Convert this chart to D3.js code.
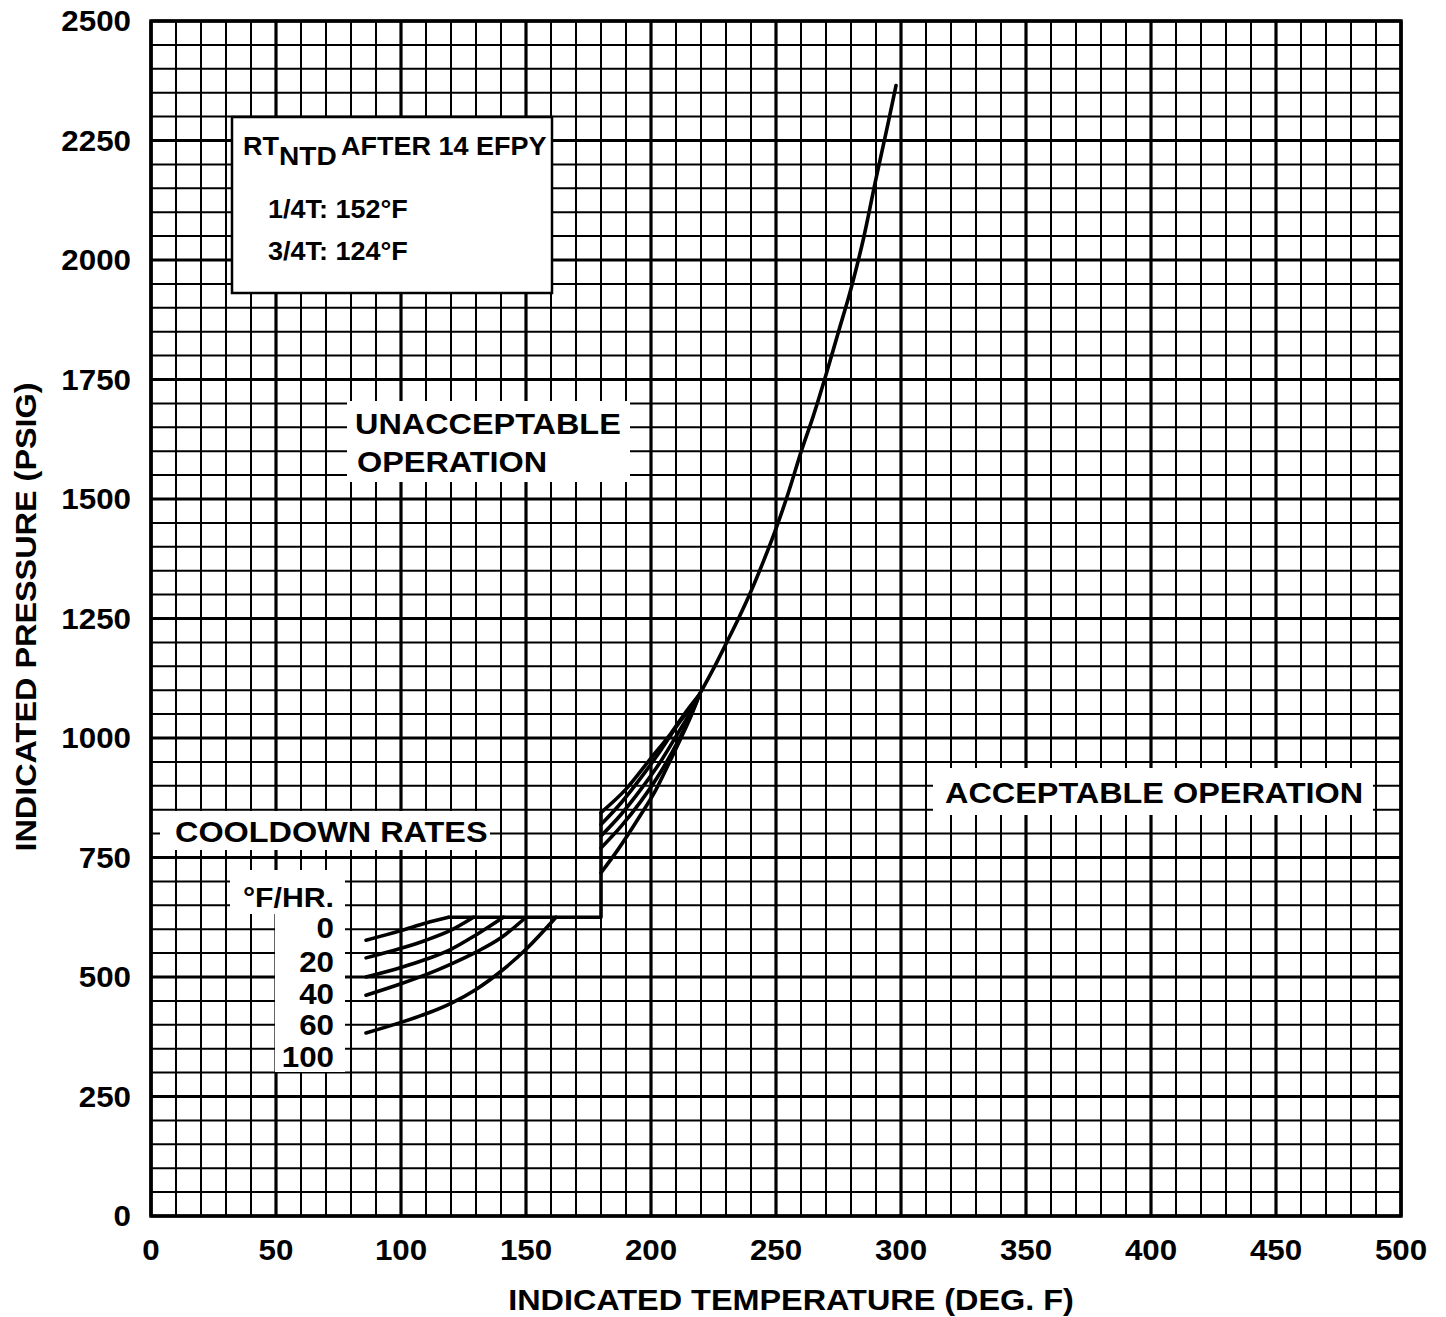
<!DOCTYPE html>
<html>
<head>
<meta charset="utf-8">
<script src="https://cdn.jsdelivr.net/npm/d3@7/dist/d3.min.js"></script>
<style>
  body { margin: 0; background: #fff; }
  svg text { font-family: "Liberation Sans", Arial, Helvetica, sans-serif; font-weight: bold; fill: #000; }
</style>
</head>
<body>
<svg id="chart" width="1446" height="1317"></svg>
<script>
const xTicks = [0, 50, 100, 150, 200, 250, 300, 350, 400, 450, 500];
const yTicks = [0, 250, 500, 750, 1000, 1250, 1500, 1750, 2000, 2250, 2500];
const coolRates = ["0", "20", "40", "60", "100"];

// flange limit (psig) and the temperature where the curves step up
const flangeP = 625;
const stepT = 180;

// low temperature part of each cooldown curve, [degF, psig], up to the flange limit
const lowCurves = [
  [[86, 577], [100, 597], [110, 613], [119, 625]],
  [[86, 540], [100, 560], [110, 577], [120, 598], [129, 625]],
  [[86, 500], [100, 520], [110, 537], [120, 558], [130, 588], [141, 625]],
  [[86, 462], [100, 486], [110, 505], [120, 527], [130, 552], [140, 582], [150, 625]],
  [[86, 383], [100, 405], [110, 423], [120, 445], [130, 474], [140, 512], [150, 558], [162, 625]]
];

// part above the step, one per rate, meeting the common curve
const highCurves = [
  [[180, 844], [190, 893], [200, 958], [208, 1010], [214, 1055], [219.5, 1092]],
  [[180, 819], [188, 864], [196, 917], [204, 975], [211, 1030], [216, 1064], [219.5, 1092]],
  [[180, 795], [188, 840], [196, 893], [204, 952], [211, 1012], [216, 1056], [219.5, 1092]],
  [[180, 770], [188, 815], [196, 868], [204, 930], [211, 995], [216, 1048], [219.5, 1092]],
  [[180, 718], [187, 768], [195, 832], [202, 892], [207, 945], [212, 1000], [216, 1046], [219.5, 1092]]
];

const upperCurve = [
  [219.5, 1092], [225, 1145], [230, 1197], [235, 1250], [240, 1307], [245, 1370],
  [250, 1438], [255, 1514], [260, 1598], [265, 1675], [270, 1760], [275, 1850],
  [280, 1940], [285, 2045], [290, 2170], [295, 2290], [298, 2365]
];

const svg = d3.select("#chart");

const x = d3.scaleLinear().domain([0, 500]).range([151, 1401]);
const y = d3.scaleLinear().domain([0, 2500]).range([1216, 21]);

// the scanned lettering is a little wider than Liberation Sans
const stretch = 1.08;
const at = (px, py, extra = "") => `translate(${px},${py})${extra} scale(${stretch},1)`;

// grid
const grid = svg.append("g").attr("class", "grid");

grid.selectAll("line.v")
  .data(d3.range(0, 501, 10))
  .join("line")
  .attr("class", "v")
  .attr("x1", d => x(d)).attr("x2", d => x(d))
  .attr("y1", y(0)).attr("y2", y(2500))
  .attr("stroke", "#000")
  .attr("stroke-width", d => d % 50 === 0 ? 3.2 : 2);

grid.selectAll("line.h")
  .data(d3.range(0, 2501, 50))
  .join("line")
  .attr("class", "h")
  .attr("x1", x(0)).attr("x2", x(500))
  .attr("y1", d => y(d)).attr("y2", d => y(d))
  .attr("stroke", "#000")
  .attr("stroke-width", d => d % 250 === 0 ? 3.2 : 2);

svg.append("rect")
  .attr("x", x(0)).attr("y", y(2500))
  .attr("width", x(500) - x(0)).attr("height", y(0) - y(2500))
  .attr("fill", "none")
  .attr("stroke", "#000")
  .attr("stroke-width", 3.5);

// text with a white patch behind it, knocking out the grid
const labels = svg.append("g").attr("class", "labels");

function patch(x0, y0, x1, y1) {
  labels.append("rect")
    .attr("x", x0).attr("y", y0)
    .attr("width", x1 - x0).attr("height", y1 - y0)
    .attr("fill", "#fff");
}

patch(347, 401, 630, 482);
patch(933, 768, 1373, 815);
patch(160, 811, 490, 850);
patch(230, 870, 345, 914);
patch(275, 914, 345, 1072);

// curves
const line = d3.line()
  .x(d => x(d[0]))
  .y(d => y(d[1]))
  .curve(d3.curveMonotoneX);

const curves = svg.append("g").attr("class", "curves")
  .attr("fill", "none")
  .attr("stroke", "#000")
  .attr("stroke-width", 3.6)
  .attr("stroke-linejoin", "round")
  .attr("stroke-linecap", "round");

curves.selectAll("path.low")
  .data(lowCurves)
  .join("path")
  .attr("class", "low")
  .attr("d", line);

curves.selectAll("path.high")
  .data(highCurves)
  .join("path")
  .attr("class", "high")
  .attr("d", line);

curves.append("path")
  .attr("d", line(upperCurve));

// flange limit plateau and the step at 180 F
curves.append("path")
  .attr("d", d3.line().x(d => x(d[0])).y(d => y(d[1]))([
    [lowCurves[0][lowCurves[0].length - 1][0], flangeP],
    [stepT, flangeP],
    [stepT, highCurves[0][0][1]]
  ]));

// region labels
labels.append("text").attr("transform", at(355, 434)).attr("font-size", 30).text("UNACCEPTABLE");
labels.append("text").attr("transform", at(357, 472)).attr("font-size", 30).text("OPERATION");
labels.append("text").attr("transform", at(945, 803)).attr("font-size", 30).text("ACCEPTABLE OPERATION");
labels.append("text").attr("transform", at(175, 842)).attr("font-size", 30).text("COOLDOWN RATES");
labels.append("text").attr("transform", at(334, 907)).attr("font-size", 28)
  .attr("text-anchor", "end").text("°F/HR.");

const rateY = [938, 972, 1004, 1035, 1067];
labels.selectAll("text.rate")
  .data(coolRates)
  .join("text")
  .attr("class", "rate")
  .attr("transform", (d, i) => at(334, rateY[i]))
  .attr("font-size", 29)
  .attr("text-anchor", "end")
  .text(d => d);

// RTNDT box
const box = svg.append("g").attr("class", "rtbox");
box.append("rect")
  .attr("x", 232).attr("y", 117)
  .attr("width", 320).attr("height", 176)
  .attr("fill", "#fff")
  .attr("stroke", "#000")
  .attr("stroke-width", 2.5);

const head = box.append("text").attr("transform", at(243, 155)).attr("font-size", 25);
head.append("tspan").text("RT");
head.append("tspan").attr("dy", 10).attr("font-size", 26).text("NTD");
head.append("tspan").attr("dy", -10).attr("dx", 4).text("AFTER 14 EFPY");

box.append("text").attr("transform", at(268, 218)).attr("font-size", 25).text("1/4T: 152°F");
box.append("text").attr("transform", at(268, 260)).attr("font-size", 25).text("3/4T: 124°F");

// axes
const axes = svg.append("g").attr("class", "axes");

axes.selectAll("text.xt")
  .data(xTicks)
  .join("text")
  .attr("class", "xt")
  .attr("transform", d => at(x(d), 1260))
  .attr("text-anchor", "middle")
  .attr("font-size", 29)
  .text(d => d);

axes.selectAll("text.yt")
  .data(yTicks)
  .join("text")
  .attr("class", "yt")
  .attr("transform", d => at(131, y(d)))
  .attr("dy", "0.36em")
  .attr("text-anchor", "end")
  .attr("font-size", 29)
  .text(d => d);

axes.append("text")
  .attr("transform", at(791, 1310))
  .attr("text-anchor", "middle")
  .attr("font-size", 30)
  .text("INDICATED TEMPERATURE (DEG. F)");

axes.append("text")
  .attr("transform", at(36, 617, " rotate(-90)"))
  .attr("text-anchor", "middle")
  .attr("font-size", 30)
  .text("INDICATED PRESSURE (PSIG)");
</script>
</body>
</html>
